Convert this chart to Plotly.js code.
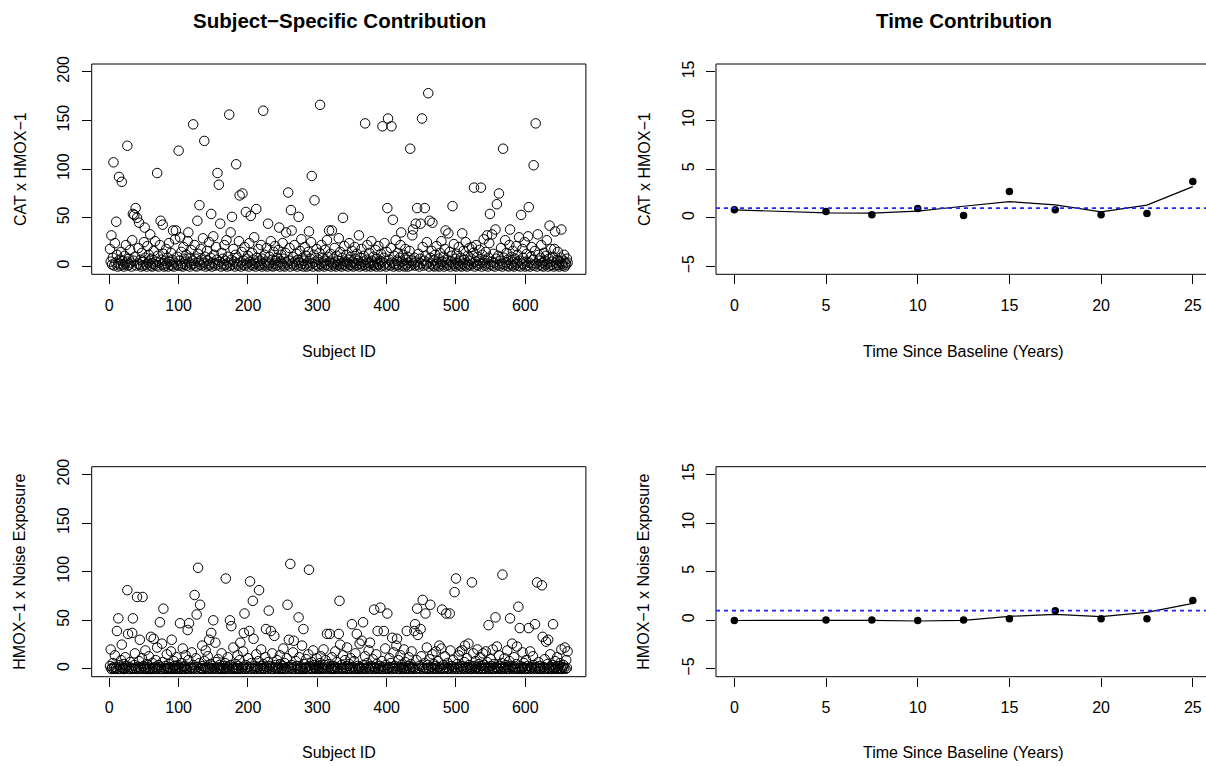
<!DOCTYPE html>
<html>
<head>
<meta charset="utf-8">
<script src="https://cdn.plot.ly/plotly-3.0.1.min.js"></script>
<style>html,body{margin:0;padding:0;background:#fff;}#chart{width:1206px;height:766px;}</style>
</head>
<body>
<div id="chart"></div>
<script>
// ---- Data ----
// Subject-specific contribution, CAT x HMOX-1 (subjects 1..661)
const catHmoxSubject = [
18,5,32,2,9,107,1,24,4,46,12,0,3,92,7,1,15,87,6,2,
0,11,3,22,5,124,1,8,2,17,4,0,27,54,6,53,10,60,1,50,
3,19,45,2,7,0,14,5,1,25,40,9,2,0,21,4,12,6,33,1,
8,0,3,16,2,26,5,1,96,11,0,4,22,47,7,2,43,13,0,6,
1,18,3,9,0,24,5,2,14,1,7,37,0,4,28,37,2,10,1,119,
6,30,1,15,3,0,20,8,2,5,12,1,26,35,4,0,9,17,2,6,
146,3,22,1,8,0,47,13,5,63,2,18,7,1,29,4,129,10,0,3,
16,6,1,25,2,9,54,0,4,31,12,3,1,20,7,96,2,84,5,44,
0,14,3,8,1,22,6,2,27,0,10,4,156,1,35,7,51,2,18,5,
0,12,105,3,9,1,26,73,4,0,15,75,2,6,20,1,56,8,3,11,
0,24,5,52,2,14,1,7,30,3,0,59,9,4,18,1,6,2,22,0,
8,160,3,12,1,5,19,0,44,2,10,4,26,1,7,0,15,3,21,6,
1,9,2,17,40,0,5,12,3,24,1,8,0,14,35,4,2,76,6,19,
0,58,37,3,10,1,22,5,2,13,0,7,51,4,16,1,28,3,9,0,
6,20,2,11,0,4,15,36,1,8,25,93,3,0,12,68,5,2,18,1,
7,0,14,166,3,22,1,9,4,0,17,6,2,27,10,1,37,5,13,0,
37,3,8,1,19,4,0,11,2,6,29,1,15,3,0,9,50,2,21,5,
1,12,4,0,7,24,2,10,1,16,5,0,3,20,8,1,13,2,6,32,
0,9,3,18,1,5,11,2,147,0,7,22,4,1,14,3,0,26,6,2,
10,1,4,17,0,8,3,21,2,6,0,13,5,144,1,9,24,3,0,15,
60,152,2,7,1,19,144,4,48,0,11,3,27,1,6,14,2,0,9,22,
35,5,1,12,3,0,18,7,2,10,0,4,16,121,1,6,32,38,3,9,
1,44,5,60,2,13,0,8,44,3,152,20,1,6,60,11,2,25,4,178,
0,47,9,3,16,45,1,6,0,12,2,21,4,1,8,0,14,3,26,5,
2,10,0,18,37,4,1,7,34,2,15,0,5,11,62,3,23,1,8,0,
13,4,2,20,6,1,9,0,34,3,16,7,1,25,4,0,11,2,19,6,
1,8,20,3,14,81,0,5,22,2,10,1,6,17,3,81,0,12,4,28,
7,1,15,3,32,0,9,24,54,2,5,33,1,13,4,0,38,8,64,2,
11,75,1,6,19,3,0,121,9,2,27,4,14,1,7,0,22,38,3,10,
1,16,5,0,8,2,21,4,12,1,30,6,0,53,3,18,9,2,25,0,
5,13,1,31,61,4,0,10,20,2,7,104,1,16,147,3,0,33,12,6,
2,9,22,1,4,0,14,6,2,11,27,3,0,8,42,1,18,5,2,10,
0,18,36,4,1,7,15,2,0,5,9,38,3,1,6,12,0,4,2,8,
4
];
// Subject-specific contribution, HMOX-1 x Noise Exposure (subjects 1..661)
const hmoxNoiseSubject = [
3,20,0,1,6,0,2,14,0,1,39,0,52,4,0,2,9,25,1,0,
5,0,12,1,3,81,36,0,2,7,0,1,37,52,0,4,16,1,0,74,
2,0,8,30,1,0,11,74,3,0,1,19,0,5,2,0,13,1,0,33,
0,6,1,31,0,2,9,0,22,1,4,0,48,2,0,26,7,62,0,1,
3,0,15,1,0,5,2,0,18,30,1,0,8,3,0,1,12,0,4,2,
0,47,1,6,0,21,2,0,3,14,1,0,40,9,47,0,2,1,17,0,
4,1,76,0,11,56,2,104,0,6,66,1,0,24,3,0,8,1,19,0,
2,13,0,30,1,5,37,0,3,50,1,0,27,7,2,0,10,1,4,0,
1,16,0,3,1,0,6,93,0,2,12,1,0,50,4,44,0,1,22,2,
0,5,1,0,14,3,0,9,27,1,0,2,18,37,57,0,4,1,0,11,
2,39,90,0,6,1,70,31,0,3,1,15,0,2,8,81,0,1,20,3,
0,5,1,0,12,41,2,0,7,60,1,3,39,0,16,2,0,34,1,4,
0,9,1,2,0,14,5,0,1,3,21,0,6,1,0,11,66,2,30,0,
108,1,4,0,17,29,2,0,8,1,3,0,53,12,0,2,1,24,0,41,
5,0,1,10,2,0,15,102,3,0,1,7,0,19,2,4,0,1,11,0,
3,1,0,6,13,0,2,1,20,0,4,9,1,36,0,2,5,36,0,1,
12,0,3,1,0,18,2,7,0,1,36,70,25,0,4,1,14,0,2,9,
0,1,22,3,0,5,1,11,0,46,2,0,8,1,16,0,36,3,1,0,
26,2,0,29,1,48,4,0,13,1,0,6,2,19,0,27,1,3,0,10,
2,61,0,1,15,5,39,0,1,3,63,0,8,2,0,39,1,21,4,0,
57,1,0,11,2,6,0,32,1,17,0,3,1,24,31,0,9,2,0,14,
1,4,0,2,20,0,7,1,39,0,3,12,1,0,5,18,2,0,1,39,
46,0,9,62,35,1,3,0,41,13,2,71,0,1,6,57,0,22,4,1,
0,10,66,2,0,15,1,5,0,3,18,1,0,8,2,24,0,1,21,61,
0,4,1,13,2,57,0,6,1,0,57,19,3,1,0,9,2,79,0,93,
1,5,0,14,2,18,0,3,19,1,0,7,24,2,0,11,1,26,4,0,
2,0,89,1,16,3,0,8,1,2,20,0,5,1,12,0,3,1,16,0,
4,1,18,0,7,2,45,0,1,10,3,0,20,1,5,0,53,2,23,1,
0,14,3,1,0,6,97,2,0,11,1,4,0,19,2,0,8,52,1,3,
26,0,2,12,1,0,5,23,1,64,0,42,3,1,0,17,2,6,0,1,
9,0,3,1,42,0,18,2,1,0,13,4,1,46,0,2,89,1,7,0,
3,1,0,86,33,2,0,10,1,28,0,5,30,1,0,15,2,0,4,46,
1,0,8,2,0,12,1,3,0,6,1,20,0,2,4,1,22,0,9,1,
18
];
// Time contribution
const timeYears      = [0, 5, 7.5, 10, 12.5, 15, 17.5, 20, 22.5, 25];
const catHmoxTime    = [0.82, 0.65, 0.31, 0.96, 0.24, 2.70, 0.82, 0.31, 0.44, 3.72];
const catHmoxSmooth  = [0.82, 0.51, 0.48, 0.68, 1.19, 1.67, 1.33, 0.61, 1.30, 3.21];
const hmoxNoiseTime  = [-0.03, 0.03, 0.03, -0.03, 0.03, 0.17, 0.99, 0.17, 0.17, 2.05];
const hmoxNoiseSmooth= [-0.02, 0.0, 0.0, -0.07, 0.0, 0.41, 0.62, 0.38, 0.82, 1.75];
const referenceLevel = 1;
// Text
const titleLeft  = "Subject\u2212Specific Contribution";
const titleRight = "Time Contribution";
const ylabTop    = "CAT x HMOX\u22121";
const ylabBottom = "HMOX\u22121 x Noise Exposure";
const xlabLeft   = "Subject ID";
const xlabRight  = "Time Since Baseline (Years)";
const subjectTicks = [0, 100, 200, 300, 400, 500, 600];
const subjectYTicks = [0, 50, 100, 150, 200];
const timeTicks = [0, 5, 10, 15, 20, 25];
const timeYTicks = [-5, 0, 5, 10, 15];

// ---- Layout helpers ----
const W = 1206, H = 766;
const px = v => v / W;
const py = v => 1 - v / H;
const FONT = "Liberation Sans, Arial, Helvetica, sans-serif";
const subjectIds = catHmoxSubject.map((_, i) => i + 1);

const boxes = {
  tl: {x0: 91.7, x1: 585.9, y0: 64, y1: 274.3},
  bl: {x0: 91.7, x1: 585.9, y0: 466.7, y1: 676.7},
  tr: {x0: 716, x1: 1211, y0: 64, y1: 274.3},
  br: {x0: 716, x1: 1211, y0: 466.7, y1: 676.7}
};

function axisBase(extra) {
  return Object.assign({
    showgrid: false, zeroline: false, showline: false,
    ticks: "outside", ticklen: 9, tickwidth: 1, tickcolor: "#000",
    tickfont: {family: FONT, size: 16, color: "#000"},
    fixedrange: true
  }, extra);
}

const openCircle = {symbol: "circle-open", size: 9.5, color: "#000", line: {width: 1, color: "#000"}};
const solidDot = {symbol: "circle", size: 7.5, color: "#000"};

const traces = [
  {x: subjectIds, y: catHmoxSubject, type: "scatter", mode: "markers", marker: openCircle, xaxis: "x", yaxis: "y", cliponaxis: false},
  {x: subjectIds, y: hmoxNoiseSubject, type: "scatter", mode: "markers", marker: openCircle, xaxis: "x2", yaxis: "y2", cliponaxis: false},
  {x: timeYears, y: catHmoxSmooth, type: "scatter", mode: "lines", line: {color: "#000", width: 1.2}, xaxis: "x3", yaxis: "y3"},
  {x: timeYears, y: catHmoxTime, type: "scatter", mode: "markers", marker: solidDot, xaxis: "x3", yaxis: "y3"},
  {x: timeYears, y: hmoxNoiseSmooth, type: "scatter", mode: "lines", line: {color: "#000", width: 1.2}, xaxis: "x4", yaxis: "y4"},
  {x: timeYears, y: hmoxNoiseTime, type: "scatter", mode: "markers", marker: solidDot, xaxis: "x4", yaxis: "y4"}
];

const shapes = [];
for (const k of ["tl", "bl", "tr", "br"]) {
  const b = boxes[k];
  shapes.push({type: "rect", xref: "paper", yref: "paper", x0: px(b.x0), x1: px(b.x1), y0: py(b.y1), y1: py(b.y0),
    line: {color: "#000", width: 1}, fillcolor: "rgba(0,0,0,0)", layer: "above"});
}
shapes.push({type: "line", xref: "paper", yref: "y3", x0: px(716), x1: 1.01, y0: referenceLevel, y1: referenceLevel,
  line: {color: "#2222ff", width: 1.6, dash: "4px,4px"}, layer: "above"});
shapes.push({type: "line", xref: "paper", yref: "y4", x0: px(716), x1: 1.01, y0: referenceLevel, y1: referenceLevel,
  line: {color: "#2222ff", width: 1.6, dash: "4px,4px"}, layer: "above"});

function ann(text, x, y, opts) {
  return Object.assign({text, xref: "paper", yref: "paper", x: px(x), y: py(y), xanchor: "center", yanchor: "middle",
    showarrow: false, font: {family: FONT, size: 16, color: "#000"}}, opts || {});
}

const annotations = [
  ann("<b>" + titleLeft + "</b>", 339, 21, {font: {family: FONT, size: 20.5, color: "#000"}}),
  ann("<b>" + titleRight + "</b>", 963.5, 21, {font: {family: FONT, size: 20.5, color: "#000"}}),
  ann(xlabLeft, 339, 351),
  ann(xlabRight, 963.5, 351),
  ann(xlabLeft, 339, 752),
  ann(xlabRight, 963.5, 752),
  ann(ylabTop, 20, 169, {textangle: -90}),
  ann(ylabBottom, 20, 571.7, {textangle: -90}),
  ann(ylabTop, 644, 169, {textangle: -90}),
  ann(ylabBottom, 644, 571.7, {textangle: -90})
];

const layout = {
  width: W, height: H,
  margin: {l: 0, r: 0, t: 0, b: 0},
  paper_bgcolor: "#fff", plot_bgcolor: "#fff",
  showlegend: false,
  font: {family: FONT, color: "#000"},
  xaxis:  axisBase({domain: [px(91.7), px(585.9)], range: [-25.4, 687.4], tickvals: subjectTicks, anchor: "y", ticklabelstandoff: 7}),
  yaxis:  axisBase({domain: [py(274.3), py(64)], range: [-8, 208], tickvals: subjectYTicks, anchor: "x", tickangle: -90, ticklabelstandoff: 6}),
  xaxis2: axisBase({domain: [px(91.7), px(585.9)], range: [-25.4, 687.4], tickvals: subjectTicks, anchor: "y2", ticklabelstandoff: 7}),
  yaxis2: axisBase({domain: [py(676.7), py(466.7)], range: [-8, 208], tickvals: subjectYTicks, anchor: "x2", tickangle: -90, ticklabelstandoff: 6}),
  xaxis3: axisBase({domain: [px(716), 1], range: [-1, 25.72], tickvals: timeTicks, anchor: "y3", ticklabelstandoff: 7}),
  yaxis3: axisBase({domain: [py(274.3), py(64)], range: [-5.8, 15.8], tickvals: timeYTicks, anchor: "x3", tickangle: -90, ticklabelstandoff: 6}),
  xaxis4: axisBase({domain: [px(716), 1], range: [-1, 25.72], tickvals: timeTicks, anchor: "y4", ticklabelstandoff: 7}),
  yaxis4: axisBase({domain: [py(676.7), py(466.7)], range: [-5.8, 15.8], tickvals: timeYTicks, anchor: "x4", tickangle: -90, ticklabelstandoff: 6}),
  shapes, annotations
};

Plotly.newPlot("chart", traces, layout, {displayModeBar: false, staticPlot: true});
</script>
</body>
</html>
